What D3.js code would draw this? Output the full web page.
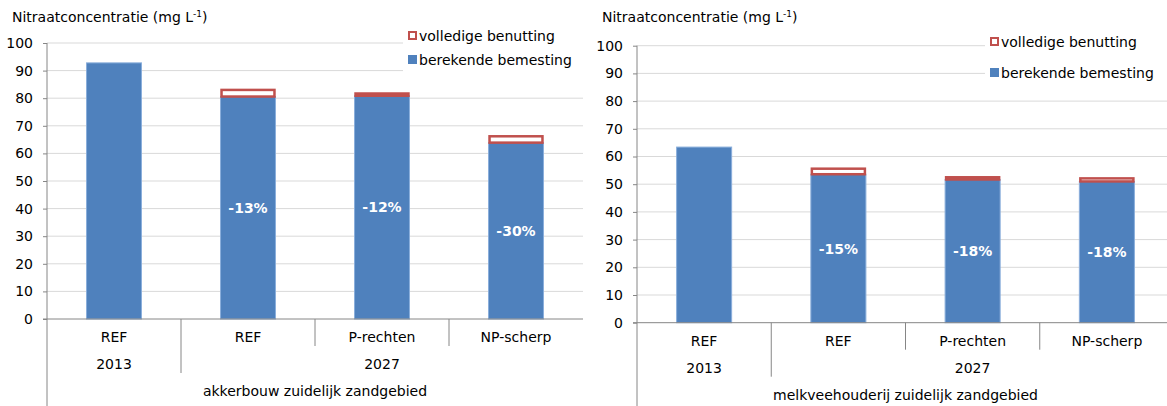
<!DOCTYPE html>
<html>
<head>
<meta charset="utf-8">
<script src="https://cdn.jsdelivr.net/npm/d3@7"></script>
<style>
  body { margin: 0; background: #fff; }
  text { font-family: "DejaVu Sans", Verdana, sans-serif; fill: #000; }
</style>
</head>
<body>
<div id="chart"></div>
<script>
// data
var categories = ['REF', 'REF', 'P-rechten', 'NP-scherp'];
var years = ['2013', '2027'];
var yearSpan = [1, 3];
var yTicks = [0, 10, 20, 30, 40, 50, 60, 70, 80, 90, 100];
var seriesNames = ['volledige benutting', 'berekende bemesting'];

var akkerGroup = 'akkerbouw zuidelijk zandgebied';
var akkerBerekend = [92.8, 80.6, 80.9, 63.9];
var akkerVolledig = [0, 2.4, 0.8, 2.3];
var akkerLabels = ['', '-13%', '-12%', '-30%'];

var melkGroup = 'melkveehouderij zuidelijk zandgebied';
var melkBerekend = [63.4, 53.6, 51.7, 51.0];
var melkVolledig = [0, 2.0, 0.8, 1.1];
var melkLabels = ['', '-15%', '-18%', '-18%'];

var svgWidth = 1167;
var svgHeight = 406;
var fontSize = 14;

var blue = '#4F81BD';
var red = '#C0504D';
var gridColor = '#d9d9d9';
var axisColor = '#868686';

var svg = d3.select('#chart')
    .append('svg')
    .attr('width', svgWidth)
    .attr('height', svgHeight);

function drawPanel(p) {
    var g = svg.append('g');

    var yScale = d3.scaleLinear()
        .domain([0, 100])
        .range([p.bottom, p.top]);

    var xScale = d3.scaleBand()
        .domain(d3.range(categories.length))
        .range([p.left, p.right])
        .paddingInner(0.59)
        .paddingOuter(0.295);

    var step = xScale.step();

    var bars = p.berekend.map((b, i) => ({i: i, b: b, v: p.volledig[i], label: p.labels[i]}));

    // title
    var title = g.append('text')
        .attr('x', p.titleX)
        .attr('y', 22)
        .attr('font-size', fontSize);
    title.append('tspan').text('Nitraatconcentratie (mg L');
    title.append('tspan').attr('font-size', 9).attr('dy', -5).text('-1');
    title.append('tspan').attr('dy', 5).text(')');

    // gridlines
    g.append('g').selectAll('line')
        .data(yTicks.filter(d => d > 0))
        .enter()
        .append('line')
        .attr('x1', p.left)
        .attr('x2', p.right)
        .attr('y1', d => yScale(d))
        .attr('y2', d => yScale(d))
        .attr('stroke', gridColor)
        .attr('stroke-width', 1);

    // legend background hides gridlines
    g.append('rect')
        .attr('x', p.legendX - 5)
        .attr('y', p.legendY[0] - 10)
        .attr('width', p.right - p.legendX + 5)
        .attr('height', p.legendY[1] - p.legendY[0] + 22)
        .attr('fill', '#fff');

    // y axis
    var yAxis = d3.axisLeft(yScale)
        .tickValues(yTicks)
        .tickSize(4)
        .tickPadding(10);
    var yAxisG = g.append('g')
        .attr('transform', `translate(${p.left}, 0)`)
        .call(yAxis);
    yAxisG.select('.domain').remove();
    yAxisG.selectAll('line').attr('stroke', axisColor);
    yAxisG.selectAll('text')
        .attr('font-size', fontSize)
        .attr('font-family', '"DejaVu Sans", Verdana, sans-serif')
        .attr('fill', '#000');

    // bars: berekende bemesting
    g.append('g').selectAll('rect')
        .data(bars)
        .enter()
        .append('rect')
        .attr('x', d => xScale(d.i))
        .attr('y', d => yScale(d.b))
        .attr('width', xScale.bandwidth())
        .attr('height', d => yScale(0) - yScale(d.b))
        .attr('fill', blue)
        .attr('stroke', '#8aaedb')
        .attr('stroke-width', 1);

    // bars: volledige benutting
    g.append('g').selectAll('rect')
        .data(bars.filter(d => d.v > 0))
        .enter()
        .append('rect')
        .attr('x', d => xScale(d.i) + 1)
        .attr('y', d => yScale(d.b + d.v))
        .attr('width', xScale.bandwidth() - 2)
        .attr('height', d => yScale(d.b) - yScale(d.b + d.v))
        .attr('fill', '#fff')
        .attr('stroke', red)
        .attr('stroke-width', 2.5);

    // percentage labels
    g.append('g').selectAll('text')
        .data(bars)
        .enter()
        .append('text')
        .attr('x', d => xScale(d.i) + xScale.bandwidth() / 2)
        .attr('y', d => yScale(d.b / 2))
        .attr('dy', '0.36em')
        .attr('text-anchor', 'middle')
        .attr('font-size', fontSize)
        .attr('font-weight', 'bold')
        .style('fill', '#fff')
        .text(d => d.label);

    // x axis line
    g.append('line')
        .attr('x1', p.left - 4)
        .attr('x2', p.right)
        .attr('y1', p.bottom)
        .attr('y2', p.bottom)
        .attr('stroke', axisColor);

    // left axis line down to the bottom
    g.append('line')
        .attr('x1', p.left)
        .attr('x2', p.left)
        .attr('y1', p.top)
        .attr('y2', svgHeight)
        .attr('stroke', axisColor);

    // category separators
    g.append('g').selectAll('line')
        .data(d3.range(1, categories.length))
        .enter()
        .append('line')
        .attr('x1', i => p.left + step * i)
        .attr('x2', i => p.left + step * i)
        .attr('y1', p.bottom)
        .attr('y2', i => i === yearSpan[0] ? p.bottom + 54 : p.bottom + 27)
        .attr('stroke', axisColor);

    // category labels
    g.append('g').selectAll('text')
        .data(categories)
        .enter()
        .append('text')
        .attr('x', (d, i) => p.left + step * (i + 0.5))
        .attr('y', p.bottom + 18)
        .attr('dy', '0.36em')
        .attr('text-anchor', 'middle')
        .attr('font-size', fontSize)
        .text(d => d);

    // year labels
    var start = 0;
    years.forEach(function(y, k) {
        var n = yearSpan[k];
        g.append('text')
            .attr('x', p.left + step * (start + n / 2))
            .attr('y', p.bottom + 45)
            .attr('dy', '0.36em')
            .attr('text-anchor', 'middle')
            .attr('font-size', fontSize)
            .text(y);
        start += n;
    });

    // group label
    g.append('text')
        .attr('x', p.left + step * categories.length / 2)
        .attr('y', p.bottom + 72)
        .attr('dy', '0.36em')
        .attr('text-anchor', 'middle')
        .attr('font-size', fontSize)
        .text(p.group);

    // legend
    var legend = g.append('g');
    legend.append('rect')
        .attr('x', p.legendX + 1)
        .attr('y', p.legendY[0] - 4)
        .attr('width', 7)
        .attr('height', 7)
        .attr('fill', '#fff')
        .attr('stroke', red)
        .attr('stroke-width', 2);
    legend.append('rect')
        .attr('x', p.legendX)
        .attr('y', p.legendY[1] - 5)
        .attr('width', 9)
        .attr('height', 9)
        .attr('fill', blue);
    seriesNames.forEach(function(name, k) {
        legend.append('text')
            .attr('x', p.legendX + 11)
            .attr('y', p.legendY[k])
            .attr('dy', '0.36em')
            .attr('font-size', fontSize)
            .text(name);
    });
}

drawPanel({
    left: 47, right: 583, top: 43, bottom: 319,
    titleX: 12, legendX: 408, legendY: [36, 60],
    berekend: akkerBerekend, volledig: akkerVolledig, labels: akkerLabels,
    group: akkerGroup
});

drawPanel({
    left: 637, right: 1174, top: 45.7, bottom: 322.7,
    titleX: 602, legendX: 990, legendY: [42, 73],
    berekend: melkBerekend, volledig: melkVolledig, labels: melkLabels,
    group: melkGroup
});
</script>
</body>
</html>
